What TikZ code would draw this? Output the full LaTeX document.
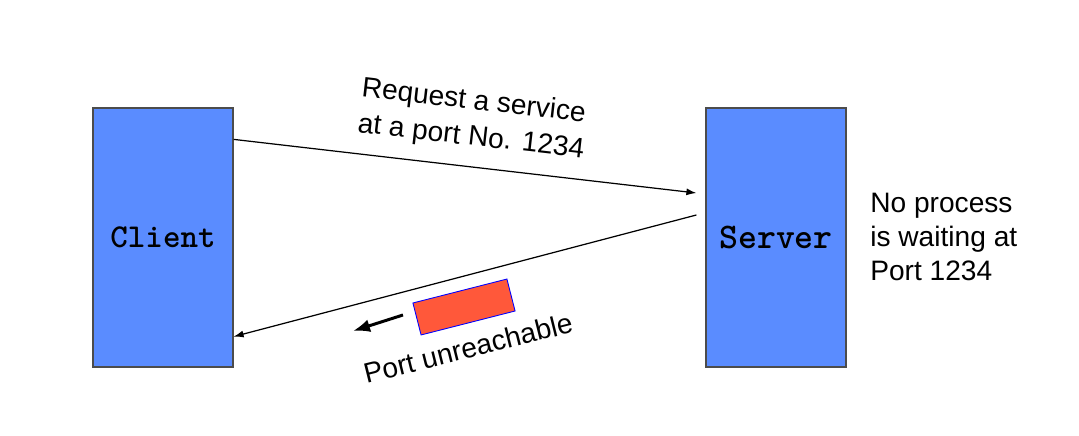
\documentclass[tikz,border=0pt]{standalone}
\usepackage{fontspec}
\setmainfont{Liberation Sans}
\usetikzlibrary{arrows.meta}
\definecolor{kastenblau}{RGB}{90,140,255}
\definecolor{paketrot}{RGB}{255,88,58}
\tikzset{
    rechner/.style={draw=black!70, line width=0.7pt, fill=kastenblau,
        minimum width=2.8cm, minimum height=5.18cm, inner sep=0pt,
        font=\ttfamily\bfseries\fontsize{19}{22}\selectfont},
    beschriftung/.style={inner sep=0pt, align=left,
        font=\fontsize{16}{20.5}\selectfont},
    nachricht/.style={-{Latex[length=2mm,width=1.4mm]}, line width=0.7pt},
    zurueck/.style={-{Latex[length=3.4mm,width=2.6mm]}, line width=1.7pt},
    paket/.style={draw=blue, line width=0.5pt, fill=paketrot,
        minimum width=1.94cm, minimum height=0.66cm, inner sep=0pt}
}
\begin{document}
\begin{tikzpicture}
        \useasboundingbox (0, 0) rectangle (21.58, 8.72);
        % Rechner
        \node[rechner] (client) at (3.26, 3.97) {Client};
        \node[rechner, font=\ttfamily\bfseries\fontsize{20.5}{22}\selectfont]
            (server) at (15.52, 3.97) {Server};
        % Pfeile
        \draw[nachricht] ([yshift=-0.64cm]client.north east) --
            ([xshift=-0.18cm, yshift=0.89cm]server.west);
        \draw[nachricht] ([xshift=-0.18cm, yshift=0.45cm]server.west) --
            ([yshift=0.62cm]client.south east);
        % Paket
        \node[paket, rotate=14.3] (paket) at (9.28, 2.58) {};
        \coordinate (rueckstart) at (8.06, 2.42);
        \coordinate (rueckziel) at (7.06, 2.1);
        \draw[zurueck] (rueckstart) -- (rueckziel);
        % Beschriftungen
        \node[beschriftung, rotate=-6.5] (anfrage) at (9.46, 6.32)
            {Request a service\\at a port No. 1234};
        \node[beschriftung, rotate=14] (fehler) at (9.36, 1.76)
            {Port unreachable};
        \node[beschriftung, anchor=west, font=\fontsize{16}{19.6}\selectfont]
            (info) at (17.4, 3.98) {No process\\is waiting at\\Port 1234};
\end{tikzpicture}
\end{document}
